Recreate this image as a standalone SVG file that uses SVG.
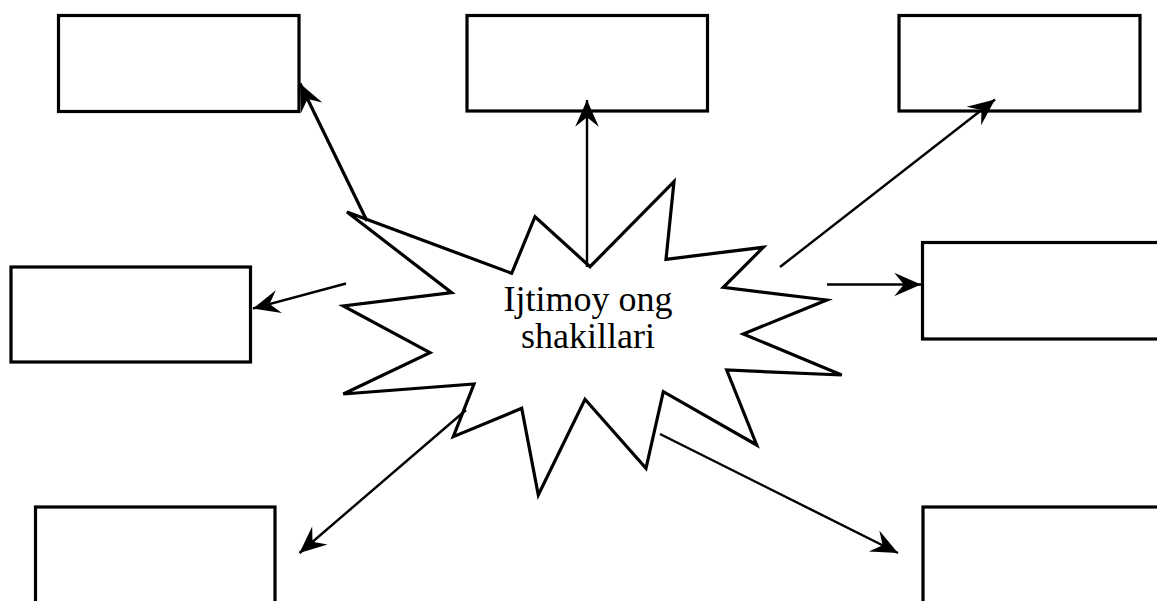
<svg xmlns="http://www.w3.org/2000/svg" width="1157" height="601" viewBox="0 0 1157 601">
<style>
.box{fill:#fff;stroke:#000;stroke-width:3.2}
.burst{fill:#fff;stroke:#000;stroke-width:3.2;stroke-linejoin:miter}
.conn{stroke:#000;stroke-width:2.4;fill:none}
.thick{stroke-width:3.2}
.lbl{font-family:"Liberation Serif","Times New Roman",serif;font-size:36px;fill:#000;text-anchor:middle}
</style>
<defs>
<marker id="ah" markerUnits="userSpaceOnUse" markerWidth="30" markerHeight="30" viewBox="-26 -13 28 26" refX="0" refY="0" orient="auto">
<path d="M0,0 L-25,-11 L-16,0 L-25,11 Z" fill="#000"/>
</marker>
</defs>
<rect width="1157" height="601" fill="#fff"/>
<g id="box-tl"><rect class="box" x="58.5" y="15.5" width="240.5" height="96"/></g>
<g id="box-tm"><rect class="box" x="467" y="15.5" width="240.5" height="95.5"/></g>
<g id="box-tr"><rect class="box" x="899" y="15.5" width="241" height="95.5"/></g>
<g id="box-ml"><rect class="box" x="11" y="267" width="239.5" height="95"/></g>
<g id="box-mr"><rect class="box" x="922.5" y="242.5" width="260" height="96.5"/></g>
<g id="box-bl"><rect class="box" x="35.5" y="507" width="239.5" height="120"/></g>
<g id="box-br"><rect class="box" x="923" y="507" width="260" height="120"/></g>
<g id="center">
<polygon class="burst" points="347,212 511.7,273.3 535,216.7 590,266.7 674,181.7 666,259.3 763.3,247.3 723.3,287.3 826.7,300 743.3,334 841.7,375 726.7,370 756.7,445 663.3,391.7 646,468.3 585,399.3 538.3,495 521.7,408.3 453.3,436.7 474,384 343.3,394 430,352.7 343.3,306 451.7,292.7"/>
<text class="lbl" x="588" y="311">Ijtimoy ong</text>
<text class="lbl" x="588" y="348">shakillari</text>
</g>
<g id="connectors">
<line class="conn thick" x1="367" y1="221" x2="300" y2="83.5" marker-end="url(#ah)"/>
<line class="conn" x1="587" y1="267" x2="587" y2="100" marker-end="url(#ah)"/>
<line class="conn" x1="780" y1="267" x2="995" y2="99.5" marker-end="url(#ah)"/>
<line class="conn" x1="346" y1="283.5" x2="253" y2="308.5" marker-end="url(#ah)"/>
<line class="conn" x1="827" y1="284.5" x2="921" y2="284.5" marker-end="url(#ah)"/>
<line class="conn" x1="466" y1="410" x2="299.5" y2="553" marker-end="url(#ah)"/>
<line class="conn" x1="660" y1="434" x2="898" y2="553" marker-end="url(#ah)"/>
</g>
</svg>
